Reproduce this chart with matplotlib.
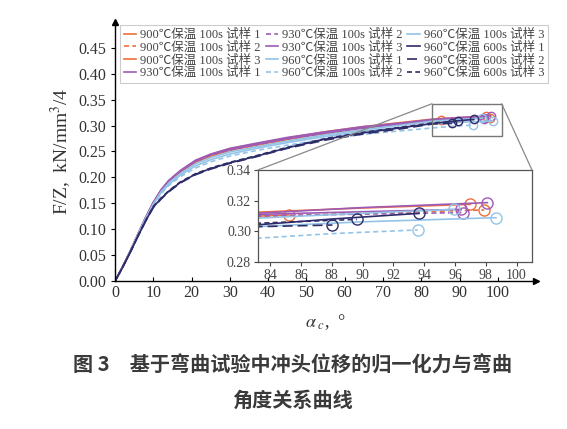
import matplotlib.pyplot as plt
from matplotlib.patches import ConnectionPatch

plt.rcParams['font.family'] = ['Liberation Serif', 'Noto Sans CJK SC']
plt.rcParams['mathtext.fontset'] = 'stix'

# shared x grid for the rising part of every curve (degrees)
x_common = [0, 2, 4, 6, 8, 10, 12, 14, 17, 21, 25, 30, 37, 45, 55, 65, 75, 83]

labels = [
    '900℃保温 100s 试样 1', '900℃保温 100s 试样 2', '900℃保温 100s 试样 3',
    '930℃保温 100s 试样 1', '930℃保温 100s 试样 2', '930℃保温 100s 试样 3',
    '960℃保温 100s 试样 1', '960℃保温 100s 试样 2', '960℃保温 100s 试样 3',
    '960℃保温 600s 试样 1', '960℃保温 600s 试样 2', '960℃保温 600s 试样 3',
]

# extra x points after 83 deg, the last one is the end of the test
x_tail = [
    [85.2], [90, 97.9], [90, 97.0],
    [90, 98.1], [90, 96.5], [90, 96.4],
    [90, 98.66], [88, 93.58], [90, 95.96],
    [88, 93.66], [88.04], [89.62],
]

y_900_1 = [0, 0.028, 0.058, 0.090, 0.121, 0.150, 0.173, 0.191, 0.210, 0.229, 0.241, 0.252,
           0.262, 0.273, 0.285, 0.295, 0.303, 0.3098, 0.3107]
y_900_2 = [0, 0.028, 0.058, 0.090, 0.122, 0.151, 0.174, 0.192, 0.211, 0.230, 0.242, 0.253,
           0.263, 0.274, 0.285, 0.295, 0.303, 0.3096, 0.3118, 0.3139]
y_900_3 = [0, 0.028, 0.058, 0.091, 0.123, 0.152, 0.175, 0.193, 0.212, 0.232, 0.244, 0.255,
           0.265, 0.276, 0.288, 0.298, 0.306, 0.3124, 0.3152, 0.3176]
y_930_1 = [0, 0.028, 0.059, 0.091, 0.123, 0.152, 0.176, 0.194, 0.213, 0.233, 0.245, 0.256,
           0.266, 0.277, 0.288, 0.298, 0.305, 0.3117, 0.3155, 0.3187]
y_930_2 = [0, 0.028, 0.058, 0.090, 0.122, 0.151, 0.174, 0.192, 0.211, 0.231, 0.243, 0.253,
           0.263, 0.274, 0.285, 0.295, 0.303, 0.3100, 0.3112, 0.3122]
y_930_3 = [0, 0.028, 0.058, 0.090, 0.122, 0.151, 0.175, 0.193, 0.212, 0.231, 0.244, 0.254,
           0.264, 0.275, 0.286, 0.296, 0.304, 0.3110, 0.3128, 0.3143]
y_960_1 = [0, 0.027, 0.057, 0.089, 0.120, 0.148, 0.170, 0.186, 0.204, 0.222, 0.234, 0.245,
           0.256, 0.267, 0.279, 0.289, 0.297, 0.3030, 0.3062, 0.3089]
y_960_2 = [0, 0.027, 0.057, 0.088, 0.119, 0.147, 0.168, 0.184, 0.201, 0.218, 0.230, 0.241,
           0.252, 0.262, 0.274, 0.283, 0.290, 0.2954, 0.2985, 0.3009]
y_960_3 = [0, 0.028, 0.058, 0.090, 0.121, 0.149, 0.172, 0.189, 0.207, 0.226, 0.238, 0.249,
           0.259, 0.270, 0.282, 0.292, 0.301, 0.3085, 0.3118, 0.3143]
y_600_1 = [0, 0.027, 0.056, 0.087, 0.116, 0.143, 0.159, 0.173, 0.190, 0.206, 0.217, 0.228,
           0.241, 0.257, 0.274, 0.286, 0.296, 0.3041, 0.3080, 0.3117]
y_600_2 = [0, 0.027, 0.056, 0.087, 0.116, 0.142, 0.158, 0.172, 0.189, 0.205, 0.216, 0.227,
           0.240, 0.256, 0.272, 0.284, 0.294, 0.3030, 0.3041]
y_600_3 = [0, 0.027, 0.056, 0.087, 0.117, 0.144, 0.160, 0.174, 0.191, 0.207, 0.218, 0.229,
           0.242, 0.258, 0.275, 0.287, 0.297, 0.3052, 0.3078]

y_all = [y_900_1, y_900_2, y_900_3, y_930_1, y_930_2, y_930_3,
         y_960_1, y_960_2, y_960_3, y_600_1, y_600_2, y_600_3]

orange = '#EE6F3C'
purple = '#9E5BB5'
ltblue = '#93C4E8'
navy = '#2F2C6A'
colors = [orange] * 3 + [purple] * 3 + [ltblue] * 3 + [navy] * 3
styles = ['-', (0, (3, 2)), '-',
          '-', (0, (3, 2)), '-',
          '-', (0, (3, 2)), '-',
          '-', (0, (6, 3)), (0, (3, 2))]

fig = plt.figure(figsize=(5.67, 4.29), dpi=100)
ax = fig.add_axes([0.203, 0.345, 0.7425, 0.604])

for i in range(12):
    xs = x_common + x_tail[i]
    ax.plot(xs, y_all[i], color=colors[i], ls=styles[i], lw=1.2, label=labels[i])
    ax.plot(xs[-1], y_all[i][-1], 'o', mfc='none', mec=colors[i], ms=6, mew=1.0)

ax.set_xlim(0, 110)
ax.set_ylim(0, 0.5)
ax.set_xticks(range(0, 101, 10))
ax.set_yticks([i * 0.05 for i in range(10)])
ax.set_yticklabels(['%.2f' % (i * 0.05) for i in range(10)])
for s in ['top', 'right']:
    ax.spines[s].set_visible(False)
for s in ['left', 'bottom']:
    ax.spines[s].set_linewidth(1.0)
ax.tick_params(axis='x', direction='in', length=3, labelsize=11.5, colors='#333333', pad=3)
ax.tick_params(axis='y', direction='out', length=3, labelsize=11.5, colors='#333333')
ax.tick_params(axis='both', color='black')
ax.plot(1, 0, '>', color='black', ms=5, transform=ax.transAxes, clip_on=False)
ax.plot(0, 1, '^', color='black', ms=5, transform=ax.transAxes, clip_on=False)

ax.set_ylabel('F/Z,  kN/mm$^3$/4', fontsize=14, color='#333333', labelpad=4)
ax.set_xlabel(r'$\alpha_{\ c}$,  °', fontsize=13, color='#333333', labelpad=8)

leg = ax.legend(ncol=3, loc='upper left', bbox_to_anchor=(120 / 567, 1 - 25 / 429),
                bbox_transform=fig.transFigure, fontsize=9, handlelength=1.0,
                handletextpad=0.3, columnspacing=0.4, labelspacing=0.05,
                borderpad=0.3, borderaxespad=0, fancybox=False, framealpha=1)
leg.get_frame().set_edgecolor('#cccccc')
leg.get_frame().set_linewidth(0.8)
for t in leg.get_texts():
    t.set_color('#444444')

# zoomed inset
axin = fig.add_axes([0.455, 0.3893, 0.4832, 0.2145])
for i in range(12):
    xs = x_common + x_tail[i]
    axin.plot(xs, y_all[i], color=colors[i], ls=styles[i], lw=1.2)
    axin.plot(xs[-1], y_all[i][-1], 'o', mfc='none', mec=colors[i], ms=8, mew=1.0)
axin.set_xlim(83.2, 101)
axin.set_ylim(0.28, 0.34)
axin.set_xticks(range(84, 101, 2))
axin.set_yticks([0.28, 0.30, 0.32, 0.34])
axin.set_yticklabels(['0.28', '0.30', '0.32', '0.34'])
axin.tick_params(labelsize=10, colors='#444444', length=3, pad=2)
for s in axin.spines.values():
    s.set_color('#555555')
    s.set_linewidth(0.9)

rx0, rx1, ry0, ry1 = 82.8, 101, 0.28, 0.342
ax.indicate_inset([rx0, ry0, rx1 - rx0, ry1 - ry0], edgecolor='#777777', lw=1.0, alpha=1)
for xa, xb in [(rx0, 0), (rx1, 1)]:
    con = ConnectionPatch(xyA=(xa, ry1), coordsA=ax.transData, xyB=(xb, 1),
                          coordsB=axin.transAxes, color='#888888', lw=0.9)
    fig.add_artist(con)

cap = dict(family=['Noto Sans CJK SC'], fontsize=14.5, weight='bold', color='#3a3a3a', ha='center')
fig.text(0.516, 1 - 365 / 429, '图 3　基于弯曲试验中冲头位移的归一化力与弯曲', va='center', **cap)
fig.text(0.516, 1 - 400 / 429, '角度关系曲线', va='center', **cap)

fig.savefig('out.png', dpi=100)
